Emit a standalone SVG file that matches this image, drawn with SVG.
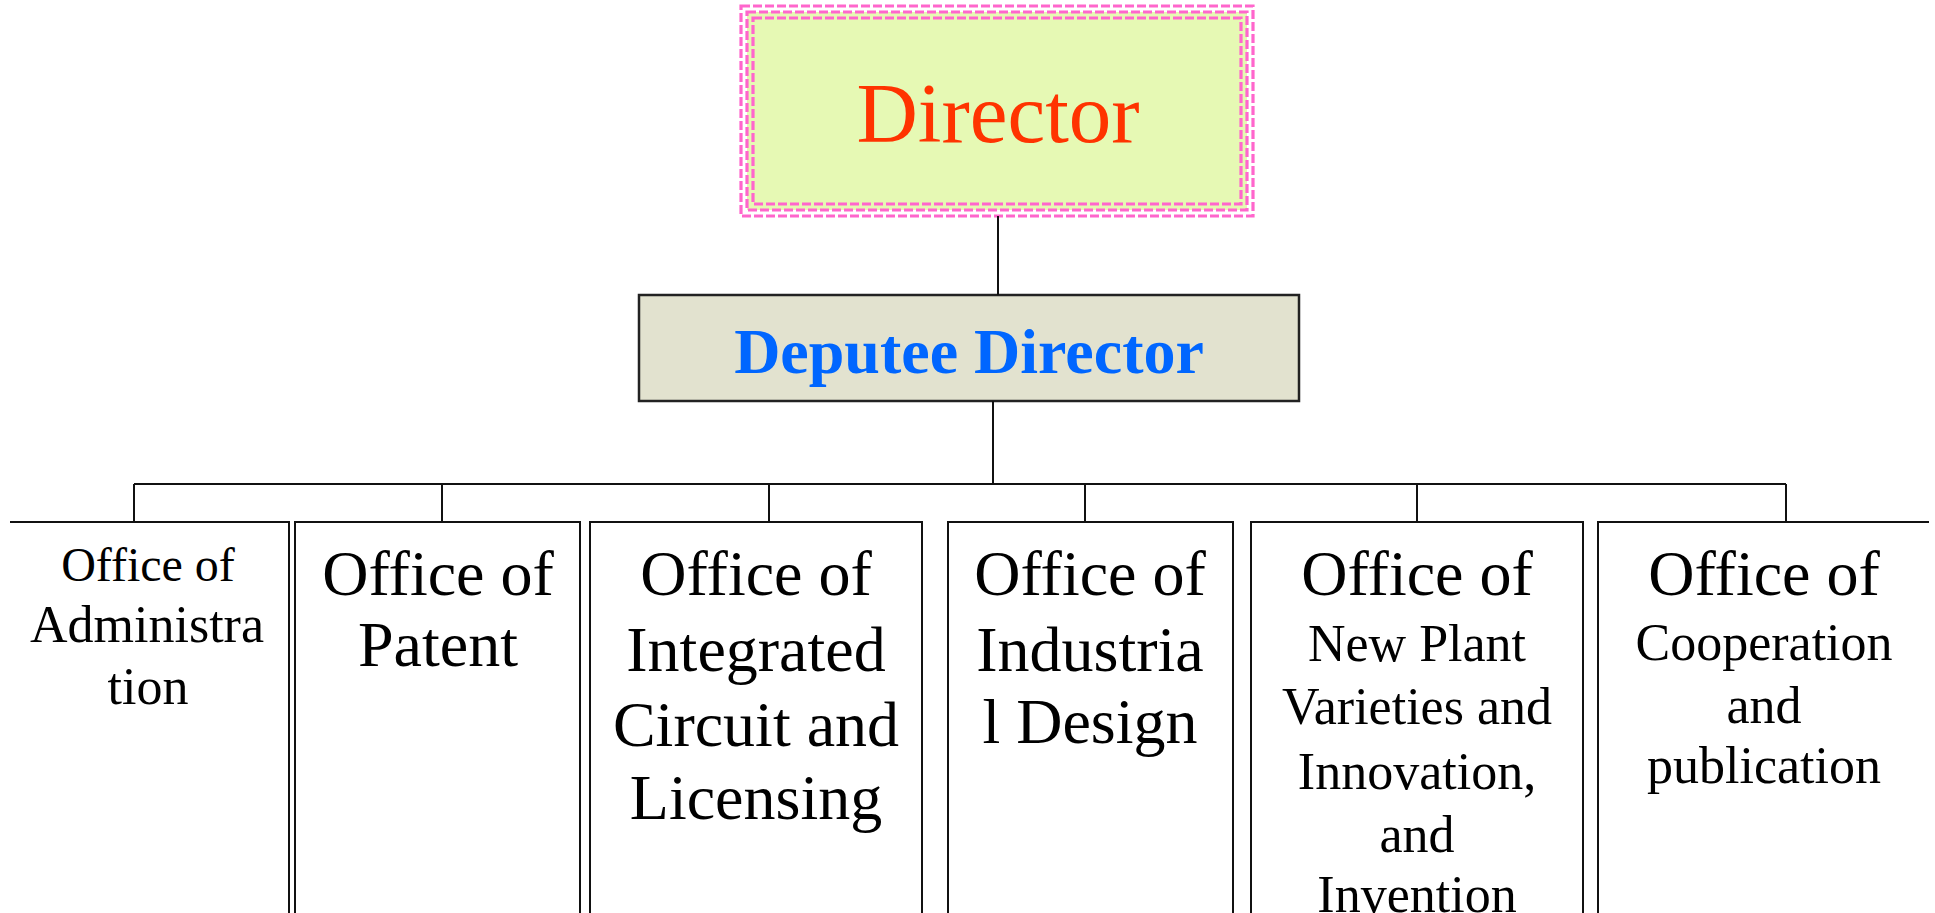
<svg xmlns="http://www.w3.org/2000/svg" width="1935" height="913" viewBox="0 0 1935 913">
<style>
  .pink { fill: none; stroke: #ff66cc; stroke-width: 3.2; stroke-dasharray: 9 3; }
  .conn { fill: none; stroke: #111; stroke-width: 2; }
  .t { font-family: "Liberation Serif", "Times New Roman", serif; fill: #000; text-anchor: middle; }
  .big { font-size: 64px; }
  .mid { font-size: 52px; }
</style>
<rect width="1935" height="913" fill="#ffffff"/>

<g id="director">
  <rect x="747" y="12" width="500" height="198" fill="#e6f9b4"/>
  <rect class="pink" x="741" y="6" width="512" height="210"/>
  <rect class="pink" x="747" y="12" width="500" height="198"/>
  <rect class="pink" x="753" y="18" width="488" height="186"/>
  <text class="t" x="998" y="142" font-size="85" style="fill:#ff3300">Director</text>
</g>

<g id="deputee">
  <rect x="639" y="295" width="660" height="106" fill="#e2e2cf" stroke="#222" stroke-width="2.5"/>
  <text class="t" x="969" y="373" font-size="64" font-weight="bold" style="fill:#0066ff">Deputee Director</text>
</g>

<g id="connectors">
  <line class="conn" x1="998" y1="216" x2="998" y2="295"/>
  <line class="conn" x1="993" y1="401" x2="993" y2="484"/>
  <line class="conn" x1="134" y1="484" x2="1786" y2="484"/>
  <line class="conn" x1="134" y1="484" x2="134" y2="522"/>
  <line class="conn" x1="442" y1="484" x2="442" y2="522"/>
  <line class="conn" x1="769" y1="484" x2="769" y2="522"/>
  <line class="conn" x1="1085" y1="484" x2="1085" y2="522"/>
  <line class="conn" x1="1417" y1="484" x2="1417" y2="522"/>
  <line class="conn" x1="1786" y1="484" x2="1786" y2="522"/>
</g>

<g id="office-admin">
  <path class="conn" d="M10 522 H289 V913"/>
  <text class="t" x="148" y="581" font-size="48">Office of</text>
  <text class="t mid" x="147" y="642">Administra</text>
  <text class="t mid" x="148" y="704">tion</text>
</g>

<g id="office-patent">
  <path class="conn" d="M295 913 V522 H580 V913"/>
  <text class="t big" x="438" y="595">Office of</text>
  <text class="t big" x="438" y="666">Patent</text>
</g>

<g id="office-ic">
  <path class="conn" d="M590 913 V522 H922 V913"/>
  <text class="t big" x="756" y="595">Office of</text>
  <text class="t big" x="756" y="671">Integrated</text>
  <text class="t big" x="756" y="746">Circuit and</text>
  <text class="t big" x="756" y="819">Licensing</text>
</g>

<g id="office-design">
  <path class="conn" d="M948 913 V522 H1233 V913"/>
  <text class="t big" x="1090" y="595">Office of</text>
  <text class="t big" x="1090" y="671">Industria</text>
  <text class="t big" x="1090" y="743">l Design</text>
</g>

<g id="office-plant">
  <path class="conn" d="M1251 913 V522 H1583 V913"/>
  <text class="t big" x="1417" y="595">Office of</text>
  <text class="t mid" x="1417" y="661">New Plant</text>
  <text class="t mid" x="1417" y="724">Varieties and</text>
  <text class="t mid" x="1417" y="789">Innovation,</text>
  <text class="t mid" x="1417" y="852">and</text>
  <text class="t mid" x="1417" y="912">Invention</text>
</g>

<g id="office-coop">
  <path class="conn" d="M1598 913 V522 H1929"/>
  <text class="t big" x="1764" y="595">Office of</text>
  <text class="t mid" x="1764" y="660">Cooperation</text>
  <text class="t mid" x="1764" y="723">and</text>
  <text class="t mid" x="1764" y="783">publication</text>
</g>
</svg>
